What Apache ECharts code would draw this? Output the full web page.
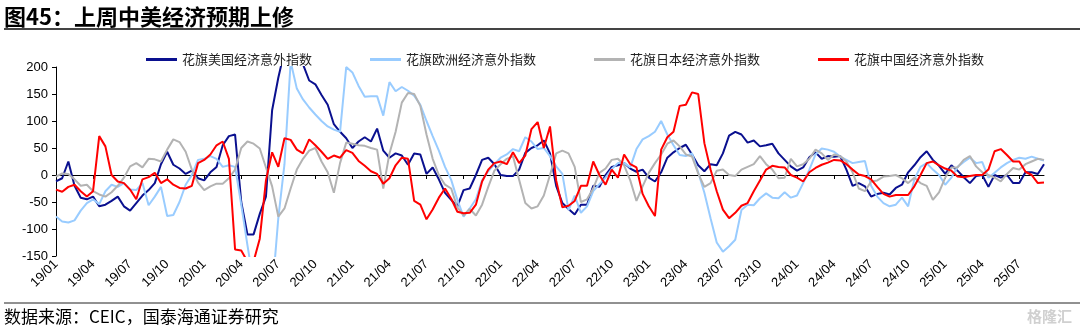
<!DOCTYPE html>
<html><head><meta charset="utf-8">
<script src="https://cdn.jsdelivr.net/npm/echarts@6/dist/echarts.min.js"></script>
<style>html,body{margin:0;padding:0;background:#fff}#c{width:1080px;height:331px}</style>
</head><body><div id="c"></div>
<script>
// Half-month steps from 2019-01 to 2025-09
const seriesNames = ['花旗美国经济意外指数', '花旗欧洲经济意外指数', '花旗日本经济意外指数', '花旗中国经济意外指数'];
const tickLabels = ['19/01','19/04','19/07','19/10','20/01','20/04','20/07','20/10','21/01','21/04','21/07','21/10',
  '22/01','22/04','22/07','22/10','23/01','23/04','23/07','23/10','24/01','24/04','24/07','24/10','25/01','25/04','25/07'];

const usData = [
  -12, -6, 25, -20, -42, -45, -40, -58, -55, -48,
  -40, -58, -66, -52, -38, -28, -15, 20, 43, 19,
  12, 2, 8, -6, -10, 5, 15, 55, 72, 75,
  -50, -110, -110, -72, -40, 120, 180, 230, 260, 240,
  205, 175, 168, 148, 130, 94, 80, 68, 50, 62,
  70, 62, 86, 45, 32, 40, 36, 19, 40, 38,
  2, 14, -8, -33, -46, -58, -28, -25, 0, 28,
  32, 20, 0, -2, -2, 10, 41, 50, 55, 64,
  40, -20, -52, -63, -73, -55, -55, -20, -22, 0,
  15, 18, 22, 12, 6, 10, -5, -12, 5, 32,
  42, 50, 56, 38, 18, 7, 20, 18, 40, 73,
  80, 75, 60, 64, 53, 55, 58, 40, 28, 16,
  8, 14, 33, 42, 30, 35, 34, 35, 10, -20,
  -15, -21, -40, -35, -33, -36, -24, -18, 5, 18,
  33, 44, 28, 17, 2, 18, 8, -4, -15, -2,
  0, -22, 0, -5, 0, -15, -15, 5, 5, 2,
  20
];
const euData = [
  -77, -86, -88, -84, -66, -52, -45, -54, -30, -18,
  -22, -15, -27, -28, -15, -56, -40, -22, -76, -74,
  -50, -18, 0, 28, 30, 35, 30, 15, 18, 15,
  -55, -130, -200, -250, -260, -220, -80, 20, 210, 160,
  140, 125, 112, 100, 90, 84, 80, 200, 190, 165,
  145, 146, 146, 110, 172, 155, 163, 156, 147, 130,
  100, 72, 45, 15, -9, -46, -77, -62, -45, -10,
  7, 20, 32, 38, 48, 44, 70, 62, 48, 50,
  35, 16, 2, -65, -38, -70, -58, -30, -17, -5,
  11, 22, 22, 14, 48, 66, 72, 80, 100, 75,
  55, 37, 35, 40, 5, -33, -80, -125, -142, -132,
  -120, -65, -55, -56, -43, -34, -42, -43, -32, -42,
  -38, -15, 10, 38, 49, 47, 43, 34, 28, 22,
  24, 26, -20, -40, -52, -58, -55, -42, -58, -8,
  15, 22, 10, 0, -18, -5, 15, 24, 32, 22,
  24, -5, 4, 14, 22, 28, 32, 30, 34, 30,
  27
];
const jpData = [
  -3, 3, 2, -8, -20, -18, -30, -36, -40, -32,
  -20, -5, 16, 22, 14, 30, 29, 25, 47, 66,
  61, 43, 10, -14, -28, -21, -16, -16, -6, 10,
  50, 62, 58, 49, 14, -21, -77, -62, -25, 10,
  30, 45, 50, 25, 5, -33, 22, 60, 58, 55,
  54, 50, 47, -25, 40, 80, 134, 152, 150, 128,
  75, 30, 0, -18, -25, -60, -75, -63, -75, -55,
  -22, 8, 20, 30, 35, -9, -52, -62, -58, -38,
  0, 40, 45, 40, 15, -50, -45, -25, 4, 12,
  28, 30, 18, -10, -48, -21, 4, 22, 38, 58,
  64, 53, 38, 34, 3, -22, -15, 8, 10, 0,
  -2, 10, 15, 20, 35, 20, 10, -6, -5, 30,
  16, 20, 30, 47, 40, 28, 38, 35, 25, 5,
  -25, -30, -12, -10, -3, -2, 0, -6, -15, -5,
  -15, -20, -46, -32, -5, 14, 14, 28, 35, 16,
  5, 0, -5, -12, 2, 13, 10, 20, 25, 30,
  28
];
const cnData = [
  -27, -31, -22, -18, -30, -40, -30, 72, 53, 0,
  -12, -15, -27, -45, -8, -4, 4, -15, -8, -18,
  -24, -25, -20, 22, 28, 38, 55, 62, 30, -138,
  -140, -160, -160, -118, -10, 42, 15, 68, 65, 47,
  40, 66, 55, 43, 30, 36, 32, 46, 41, 26,
  17, 7, 2, -16, -6, 18, 32, 30, -48, -55,
  -82, -64, -42, -25, -44, -68, -71, -70, -55, -12,
  10, 22, 25, 20, 42, 22, 36, 85, 98, 50,
  90, -10, -60, -57, -48, -20, -20, 25, 0, -18,
  10, -5, 38, 20, 14, -35, -58, -76, 47, 70,
  80, 128, 130, 153, 150, 59, 10, -30, -64, -80,
  -70, -57, -52, -30, -10, 10, 17, 15, 14, 0,
  -5, -12, 5, 13, 19, 23, 28, 27, 20, 10,
  1, -2, -8, -22, -35, -40, -37, -37, -37, -21,
  0, 22, 25, 18, 12, 8, -3, -4, -2, 0,
  0, 10, 44, 48, 37, 25, 25, 6, 0, -15,
  -14
];

const periods = usData.map(function (_, i) { return String(i); });
const colors = ['#0a108f', '#99ccff', '#b3b3b3', '#ff0000'];
const allData = [usData, euData, jpData, cnData];

const chart = echarts.init(document.getElementById('c'), null, { renderer: 'canvas' });
const cjk = '"Noto Sans CJK SC", sans-serif';
const latin = '"Liberation Sans", Arial, sans-serif';

chart.setOption({
  animation: false,
  backgroundColor: '#fff',
  grid: { left: 56, right: 36, top: 67, bottom: 75, containLabel: false },
  legend: {
    data: seriesNames,
    left: 141, top: 48,
    itemGap: 58, itemWidth: 31, itemHeight: 3, icon: 'rect',
    textStyle: { fontFamily: cjk, fontSize: 13, color: '#222' }
  },
  xAxis: [
    {
      type: 'category', data: periods, boundaryGap: false, position: 'bottom',
      axisLine: { show: false, onZero: false },
      axisTick: { show: false },
      splitLine: { show: false },
      axisLabel: {
        interval: 5, rotate: 45, margin: 6, fontSize: 13, color: '#000', fontFamily: latin,
        formatter: function (v, idx) { return tickLabels[idx / 6] || ''; }
      }
    },
    {
      type: 'category', data: periods, boundaryGap: false, position: 'bottom',
      axisLine: { show: true, onZero: true, lineStyle: { color: '#000', width: 1 } },
      axisTick: { show: true, interval: 5, length: 4, lineStyle: { color: '#000' } },
      axisLabel: { show: false },
      splitLine: { show: false }
    }
  ],
  yAxis: {
    type: 'value', min: -150, max: 200, interval: 50,
    axisLine: { show: true, lineStyle: { color: '#000', width: 1 } },
    axisTick: { show: true, length: 4, lineStyle: { color: '#000' } },
    splitLine: { show: false },
    axisLabel: { fontSize: 13, color: '#000', margin: 8, fontFamily: latin }
  },
  series: seriesNames.map(function (name, k) {
    return {
      name: name, type: 'line', xAxisIndex: 0, data: allData[k],
      symbol: 'none', showSymbol: false, clip: true,
      lineStyle: { color: colors[k], width: 2 },
      itemStyle: { color: colors[k] },
      z: 2 + k
    };
  }),
  graphic: [
    { type: 'text', left: 4, top: 6, style: { text: '图45：上周中美经济预期上修', font: 'bold 22px ' + cjk, fill: '#000' } },
    { type: 'line', shape: { x1: 4, y1: 29, x2: 1080, y2: 29 }, style: { stroke: '#444', lineWidth: 2 } },
    { type: 'line', shape: { x1: 4, y1: 303, x2: 1080, y2: 303 }, style: { stroke: '#222', lineWidth: 1 } },
    { type: 'text', left: 4, top: 308, style: { text: '数据来源：CEIC，国泰海通证券研究', font: '17px ' + cjk, fill: '#000' } },
    { type: 'text', right: 8, top: 309, style: { text: '格隆汇', font: 'bold 15px ' + cjk, fill: '#d0d0d0' } }
  ]
});
</script>
</body></html>
